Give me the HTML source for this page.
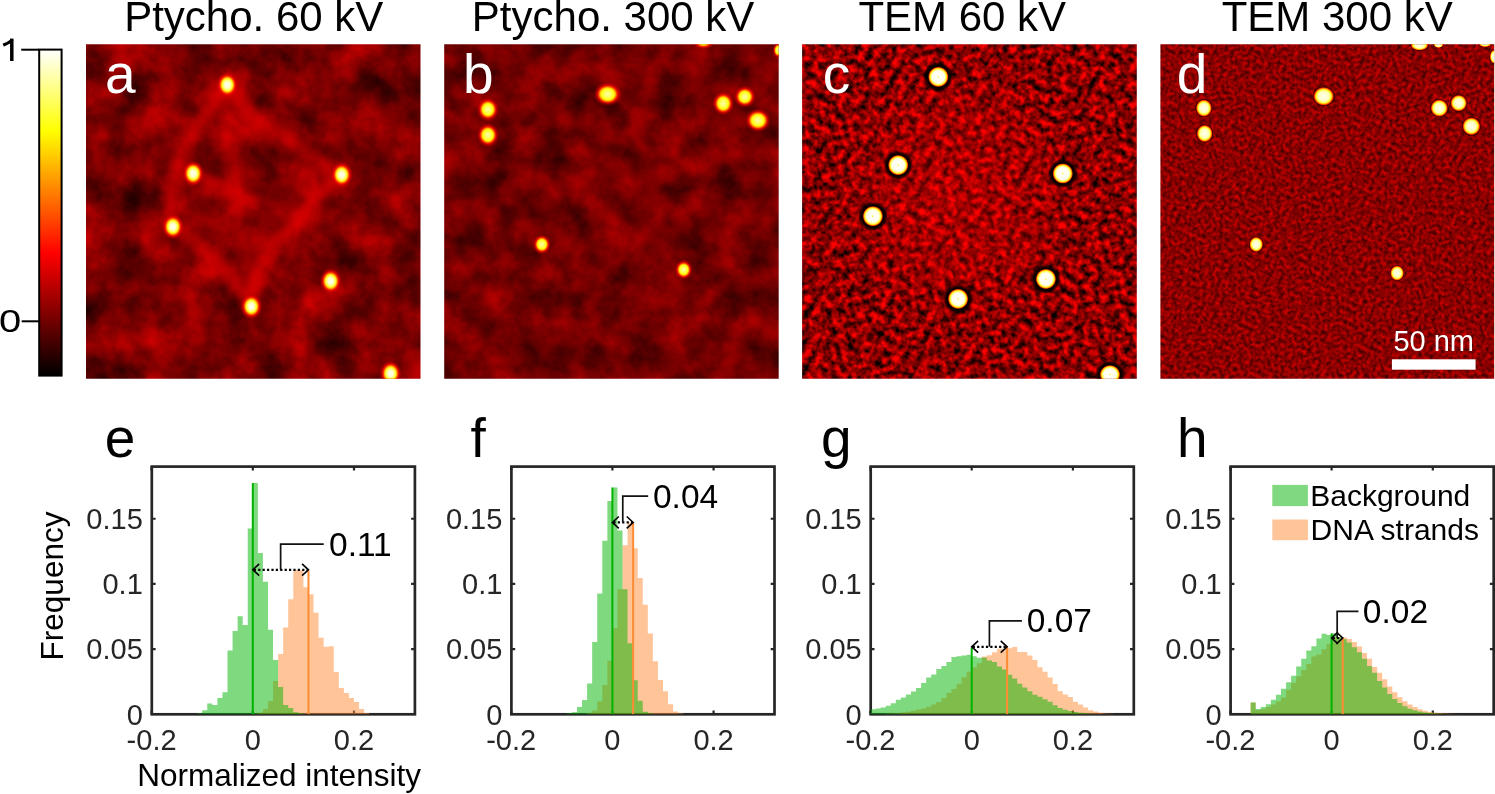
<!DOCTYPE html><html><head><meta charset="utf-8"><style>html,body{margin:0;padding:0;background:#fff;overflow:hidden;}svg{display:block;will-change:transform;}text{font-family:"Liberation Sans", sans-serif;}</style></head><body>
<svg width="1495" height="794" viewBox="0 0 1495 794">
<defs>
<linearGradient id="hot" x1="0" y1="1" x2="0" y2="0"><stop offset="0" stop-color="#000"/><stop offset="0.375" stop-color="#f00"/><stop offset="0.75" stop-color="#ff0"/><stop offset="1" stop-color="#fff"/></linearGradient>
<radialGradient id="dot"><stop offset="0" stop-color="#fffff8"/><stop offset="0.25" stop-color="#ffffc8"/><stop offset="0.45" stop-color="#ffff30"/><stop offset="0.56" stop-color="#ffb000"/><stop offset="0.66" stop-color="#ff3000"/><stop offset="0.8" stop-color="#f00000" stop-opacity="0.55"/><stop offset="1" stop-color="#d00000" stop-opacity="0"/></radialGradient>
<radialGradient id="dotd"><stop offset="0" stop-color="#fffff0"/><stop offset="0.45" stop-color="#ffffc0"/><stop offset="0.62" stop-color="#ffff40"/><stop offset="0.72" stop-color="#ffb000"/><stop offset="0.8" stop-color="#ff3000"/><stop offset="0.87" stop-color="#600000" stop-opacity="0.8"/><stop offset="0.94" stop-color="#000" stop-opacity="0.35"/><stop offset="1" stop-color="#000" stop-opacity="0"/></radialGradient>
<radialGradient id="dotb"><stop offset="0" stop-color="#ffffb0"/><stop offset="0.25" stop-color="#ffff60"/><stop offset="0.45" stop-color="#ffff10"/><stop offset="0.56" stop-color="#ffb000"/><stop offset="0.66" stop-color="#ff3000"/><stop offset="0.8" stop-color="#f00000" stop-opacity="0.55"/><stop offset="1" stop-color="#d00000" stop-opacity="0"/></radialGradient>
<radialGradient id="dotc"><stop offset="0" stop-color="#ffe800"/><stop offset="0.08" stop-color="#fffff4"/><stop offset="0.4" stop-color="#fffff0"/><stop offset="0.5" stop-color="#ffff70"/><stop offset="0.57" stop-color="#ffd000"/><stop offset="0.62" stop-color="#ff5000"/><stop offset="0.67" stop-color="#300000"/><stop offset="0.72" stop-color="#000"/><stop offset="0.84" stop-color="#000" stop-opacity="0.75"/><stop offset="1" stop-color="#000" stop-opacity="0"/></radialGradient>
<filter id="nA" x="0" y="0" width="100%" height="100%" color-interpolation-filters="sRGB"><feTurbulence type="fractalNoise" baseFrequency="0.028" numOctaves="4" seed="3" result="n"/><feColorMatrix type="matrix" values="0.85 0 0 0 0.05  0 0 0 0 0  0 0 0 0 0  0 0 0 0 1"/></filter>
<filter id="nB" x="0" y="0" width="100%" height="100%" color-interpolation-filters="sRGB"><feTurbulence type="fractalNoise" baseFrequency="0.035" numOctaves="4" seed="7" result="n"/><feColorMatrix type="matrix" values="0.65 0 0 0 0.12  0 0 0 0 0  0 0 0 0 0  0 0 0 0 1"/></filter>
<filter id="nC" x="0" y="0" width="100%" height="100%" color-interpolation-filters="sRGB"><feTurbulence type="fractalNoise" baseFrequency="0.15" numOctaves="3" seed="11" result="n"/><feColorMatrix type="matrix" values="1.8 0 0 0 -0.36  0 0 0 0 0  0 0 0 0 0  0 0 0 0 1"/></filter>
<filter id="nD" x="0" y="0" width="100%" height="100%" color-interpolation-filters="sRGB"><feTurbulence type="fractalNoise" baseFrequency="0.26" numOctaves="3" seed="5" result="n"/><feColorMatrix type="matrix" values="1 0 0 0 0.04  0 0 0 0 0  0 0 0 0 0  0 0 0 0 1"/></filter>
<filter id="blur3" x="-20%" y="-20%" width="140%" height="140%"><feGaussianBlur stdDeviation="4.2"/></filter><radialGradient id="cglow"><stop offset="0" stop-color="#ff0000" stop-opacity="0.3"/><stop offset="0.6" stop-color="#ff0000" stop-opacity="0.18"/><stop offset="1" stop-color="#ff0000" stop-opacity="0"/></radialGradient>
<clipPath id="cp0"><rect x="86" y="44.3" width="334.5" height="334.4"/></clipPath>
<clipPath id="cp1"><rect x="444.2" y="44.3" width="334.5" height="334.4"/></clipPath>
<clipPath id="cp2"><rect x="802.1" y="44.3" width="334.7" height="334.4"/></clipPath>
<clipPath id="cp3"><rect x="1160.4" y="44.3" width="333.8" height="334.4"/></clipPath>
<clipPath id="ax0"><rect x="151.8" y="465.6" width="263.1" height="249"/></clipPath>
<clipPath id="ax1"><rect x="511.4" y="465.6" width="263.1" height="249"/></clipPath>
<clipPath id="ax2"><rect x="870.7" y="465.6" width="263.1" height="249"/></clipPath>
<clipPath id="ax3"><rect x="1230.6" y="465.6" width="263.1" height="249"/></clipPath>
</defs>
<text x="124.15" y="30.9" font-size="42" fill="#000" text-anchor="start" >Ptycho. 60 kV</text>
<text x="471.85" y="30.9" font-size="42" fill="#000" text-anchor="start" >Ptycho. 300 kV</text>
<text x="858.4" y="30.9" font-size="42" fill="#000" text-anchor="start" >TEM 60 kV</text>
<text x="1221.7" y="30.9" font-size="42" fill="#000" text-anchor="start" >TEM 300 kV</text>
<rect x="39.2" y="49.6" width="22.4" height="326" fill="url(#hot)" stroke="#000" stroke-width="2"/>
<line x1="21.2" y1="49.7" x2="39" y2="49.7" stroke="#000" stroke-width="2"/>
<line x1="21.7" y1="321.3" x2="39" y2="321.3" stroke="#000" stroke-width="2"/>
<path d="M11.8,38.6 V61" stroke="#000" stroke-width="3.5"/><path d="M12.2,39.6 C10,42.5 7,43.5 3.2,45" stroke="#000" stroke-width="3.2" fill="none"/>
<text transform="translate(-1.0,332.4) scale(1.25,1)" font-size="32" fill="#000">0</text>
<g clip-path="url(#cp0)">
<rect x="13.25" y="-28.5" width="480" height="480" filter="url(#nA)" transform="rotate(0 253.25 211.5)"/>
<g filter="url(#blur3)" stroke="#ff0800" fill="none" stroke-linejoin="round" stroke-linecap="round"><path d="M227.6,84.9 L211,108 L195,130 L181,151 L172,183 L168,215 L173,227 L202,248 L225,271 L250.8,306.3 L262,267 L281,239 L305,212 L325,190 L341,174 L318,160 L286,137 L253,114 Z" stroke-width="14" stroke-opacity="0.5" fill="#ff0000" fill-opacity="0.12"/><path d="M193,173 L240,196 L290,210 L330,214 M225,110 L235,170 L240,230 L250,290" stroke-width="8" stroke-opacity="0.3"/></g>
<ellipse cx="227.3" cy="84.9" rx="11" ry="13" fill="url(#dot)"/>
<ellipse cx="193.2" cy="173.5" rx="11" ry="13" fill="url(#dot)"/>
<ellipse cx="341.7" cy="174.8" rx="11" ry="13" fill="url(#dot)"/>
<ellipse cx="172.9" cy="226.7" rx="11" ry="13" fill="url(#dot)"/>
<ellipse cx="330.7" cy="281.1" rx="11" ry="13" fill="url(#dot)"/>
<ellipse cx="251.4" cy="306.4" rx="11" ry="13" fill="url(#dot)"/>
<ellipse cx="390.6" cy="373.5" rx="11" ry="13" fill="url(#dot)"/>
</g>
<g clip-path="url(#cp1)">
<rect x="371.45" y="-28.5" width="480" height="480" filter="url(#nB)" transform="rotate(0 611.45 211.5)"/>
<g filter="url(#blur3)" stroke="#ff0800" fill="none" stroke-linejoin="round" stroke-linecap="round" stroke-opacity="0.2" stroke-width="10"><path d="M578,151 L620,165 L657,174 L700,166 L736,155 M587,197 L625,225 L667,253 M640,140 L655,200 L667,253"/></g>
<ellipse cx="487.9" cy="109.4" rx="11" ry="12" fill="url(#dotb)"/>
<ellipse cx="487.9" cy="135.1" rx="11" ry="12" fill="url(#dotb)"/>
<ellipse cx="607.7" cy="94.2" rx="14" ry="12" fill="url(#dotb)"/>
<ellipse cx="723.3" cy="103.5" rx="11" ry="12" fill="url(#dotb)"/>
<ellipse cx="744.8" cy="96.7" rx="11" ry="11" fill="url(#dotb)"/>
<ellipse cx="757.9" cy="120.4" rx="13" ry="12" fill="url(#dotb)"/>
<ellipse cx="541.9" cy="244.4" rx="9" ry="10" fill="url(#dotb)"/>
<ellipse cx="683.7" cy="269.7" rx="9" ry="10" fill="url(#dotb)"/>
<ellipse cx="703.5" cy="40.5" rx="12" ry="9" fill="url(#dotb)"/>
<ellipse cx="778.5" cy="50.3" rx="6" ry="8" fill="url(#dotb)"/>
</g>
<g clip-path="url(#cp2)">
<rect x="729.45" y="-28.5" width="480" height="480" filter="url(#nC)" transform="rotate(31 969.45 211.5)"/>
<ellipse cx="957" cy="195" rx="125" ry="130" fill="url(#cglow)"/>
<ellipse cx="938.3" cy="76.9" rx="15" ry="15" fill="url(#dotc)"/>
<ellipse cx="898.2" cy="165.1" rx="15" ry="15" fill="url(#dotc)"/>
<ellipse cx="1062.8" cy="173.5" rx="15" ry="15" fill="url(#dotc)"/>
<ellipse cx="872.9" cy="216.2" rx="15" ry="15" fill="url(#dotc)"/>
<ellipse cx="1045.9" cy="279" rx="15" ry="15" fill="url(#dotc)"/>
<ellipse cx="958.1" cy="298.9" rx="15" ry="15" fill="url(#dotc)"/>
<ellipse cx="1110" cy="374.5" rx="15" ry="14" fill="url(#dotc)"/>
</g>
<g clip-path="url(#cp3)">
<rect x="1087.3" y="-28.5" width="480" height="480" filter="url(#nD)" transform="rotate(27 1327.3 211.5)"/>
<ellipse cx="1203.9" cy="108.1" rx="8.99" ry="9.77" fill="url(#dotd)"/>
<ellipse cx="1204.7" cy="133.5" rx="8.99" ry="9.77" fill="url(#dotd)"/>
<ellipse cx="1323.7" cy="96.3" rx="11.62" ry="10.54" fill="url(#dotd)"/>
<ellipse cx="1439.3" cy="108.1" rx="9.77" ry="9.77" fill="url(#dotd)"/>
<ellipse cx="1458.7" cy="103.1" rx="9.3" ry="9.3" fill="url(#dotd)"/>
<ellipse cx="1471.4" cy="126.3" rx="10.08" ry="10.08" fill="url(#dotd)"/>
<ellipse cx="1256.2" cy="244.4" rx="7.75" ry="8.53" fill="url(#dotd)"/>
<ellipse cx="1397.1" cy="273.1" rx="7.75" ry="8.53" fill="url(#dotd)"/>
<ellipse cx="1419.5" cy="45" rx="10.08" ry="6.2" fill="url(#dotd)"/>
<ellipse cx="1494" cy="56.7" rx="4.65" ry="7.75" fill="url(#dotd)"/>
<ellipse cx="1438.5" cy="44.5" rx="5.42" ry="3.88" fill="url(#dotd)"/>
<ellipse cx="1485" cy="43" rx="7.75" ry="4.65" fill="url(#dotd)"/>
</g>
<text x="104.96" y="92.8" font-size="55" fill="#fff" text-anchor="start" >a</text>
<text x="463.05" y="92.9" font-size="55" fill="#fff" text-anchor="start" >b</text>
<text x="822.8" y="92.9" font-size="55" fill="#fff" text-anchor="start" >c</text>
<text x="1176.7" y="92.8" font-size="55" fill="#fff" text-anchor="start" >d</text>
<text x="104.8" y="457.3" font-size="55" fill="#000" text-anchor="start" >e</text>
<text x="470.4" y="456.9" font-size="55" fill="#000" text-anchor="start" >f</text>
<text x="820.9" y="457.3" font-size="55" fill="#000" text-anchor="start" >g</text>
<text x="1176.9" y="457" font-size="55" fill="#000" text-anchor="start" >h</text>
<rect x="1391.9" y="359.3" width="83.7" height="10.4" fill="#fff"/>
<text x="1393.4" y="351.3" font-size="29" fill="#fff" text-anchor="start" >50 nm</text>
<rect x="151.8" y="466.6" width="263.1" height="247.7" fill="none" stroke="#262626" stroke-width="2.7"/>
<path d="M151.61,714.3 v-3.8 M151.61,466.6 v3.8 M252.8,714.3 v-3.8 M252.8,466.6 v3.8 M353.99,714.3 v-3.8 M353.99,466.6 v3.8 M151.8,649.12 h3.8 M414.9,649.12 h-3.8 M151.8,583.93 h3.8 M414.9,583.93 h-3.8 M151.8,518.74 h3.8 M414.9,518.74 h-3.8" stroke="#262626" stroke-width="2.2" fill="none"/>
<g clip-path="url(#ax0)">
<path d="M252.8,714.3 L252.8,713.8 L257.86,713.8 L257.86,712.8 L262.92,712.8 L262.92,708.9 L267.98,708.9 L267.98,700.9 L273.04,700.9 L273.04,680.9 L278.1,680.9 L278.1,654.1 L283.16,654.1 L283.16,627.6 L288.22,627.6 L288.22,599.2 L293.28,599.2 L293.28,570.3 L298.34,570.3 L298.34,570.3 L303.4,570.3 L303.4,587.3 L308.46,587.3 L308.46,594.3 L313.52,594.3 L313.52,612.7 L318.57,612.7 L318.57,637.7 L323.63,637.7 L323.63,646.7 L328.69,646.7 L328.69,646.3 L333.75,646.3 L333.75,671.9 L338.81,671.9 L338.81,688 L343.87,688 L343.87,693.1 L348.93,693.1 L348.93,698.1 L353.99,698.1 L353.99,701.9 L359.05,701.9 L359.05,709.1 L364.11,709.1 L364.11,713 L369.17,713 L369.17,714.3 Z" fill="rgb(255,140,51)" fill-opacity="0.5"/>
<path d="M197.14,714.3 L197.14,713.3 L202.2,713.3 L202.2,710.3 L207.26,710.3 L207.26,703.4 L212.32,703.4 L212.32,705.1 L217.38,705.1 L217.38,698 L222.44,698 L222.44,692.3 L227.5,692.3 L227.5,650.6 L232.56,650.6 L232.56,630.9 L237.62,630.9 L237.62,616.2 L242.68,616.2 L242.68,624.9 L247.74,624.9 L247.74,528.6 L252.8,528.6 L252.8,483.1 L257.86,483.1 L257.86,553.1 L262.92,553.1 L262.92,581.8 L267.98,581.8 L267.98,629.8 L273.04,629.8 L273.04,659.9 L278.1,659.9 L278.1,687.1 L283.16,687.1 L283.16,705.1 L288.22,705.1 L288.22,708.1 L293.28,708.1 L293.28,712.3 L298.34,712.3 L298.34,713.3 L303.4,713.3 L303.4,714.3 Z" fill="rgb(0,179,0)" fill-opacity="0.5"/>
<line x1="252.8" y1="714.3" x2="252.8" y2="483.1" stroke="#00b300" stroke-width="2"/>
<line x1="308.46" y1="714.3" x2="308.46" y2="570.6" stroke="#ff8c33" stroke-width="2"/>
</g>
<line x1="253.8" y1="569.8" x2="307.46" y2="569.8" stroke="#000" stroke-width="2.2" stroke-dasharray="2.2 2.2"/>
<path d="M259.2,563.9 L252.8,569.8 L259.2,575.7 M302.06,563.9 L308.46,569.8 L302.06,575.7" fill="none" stroke="#000" stroke-width="1.6"/>
<path d="M280.63,569.8 V544.1 H323.73" fill="none" stroke="#111" stroke-width="1.7"/>
<text x="329.03" y="555.6" font-size="33.5" fill="#000" text-anchor="start" >0.11</text>
<text x="142.8" y="724.5" font-size="29" fill="#262626" text-anchor="end" >0</text>
<text x="142.8" y="659.32" font-size="29" fill="#262626" text-anchor="end" >0.05</text>
<text x="142.8" y="594.13" font-size="29" fill="#262626" text-anchor="end" >0.1</text>
<text x="142.8" y="528.94" font-size="29" fill="#262626" text-anchor="end" >0.15</text>
<text x="151.61" y="750" font-size="29" fill="#262626" text-anchor="middle" >-0.2</text>
<text x="252.8" y="750" font-size="29" fill="#262626" text-anchor="middle" >0</text>
<text x="353.99" y="750" font-size="29" fill="#262626" text-anchor="middle" >0.2</text>
<rect x="511.4" y="466.6" width="263.1" height="247.7" fill="none" stroke="#262626" stroke-width="2.7"/>
<path d="M511.21,714.3 v-3.8 M511.21,466.6 v3.8 M612.4,714.3 v-3.8 M612.4,466.6 v3.8 M713.59,714.3 v-3.8 M713.59,466.6 v3.8 M511.4,649.12 h3.8 M774.5,649.12 h-3.8 M511.4,583.93 h3.8 M774.5,583.93 h-3.8 M511.4,518.74 h3.8 M774.5,518.74 h-3.8" stroke="#262626" stroke-width="2.2" fill="none"/>
<g clip-path="url(#ax1)">
<path d="M587.1,714.3 L587.1,713.3 L592.16,713.3 L592.16,710.6 L597.22,710.6 L597.22,701.6 L602.28,701.6 L602.28,684.9 L607.34,684.9 L607.34,660.7 L612.4,660.7 L612.4,628 L617.46,628 L617.46,589.2 L622.52,589.2 L622.52,545.3 L627.58,545.3 L627.58,522.4 L632.64,522.4 L632.64,548.3 L637.7,548.3 L637.7,578 L642.76,578 L642.76,604.7 L647.82,604.7 L647.82,633.4 L652.88,633.4 L652.88,661.2 L657.94,661.2 L657.94,680 L663,680 L663,691.2 L668.06,691.2 L668.06,704.3 L673.12,704.3 L673.12,711.5 L678.17,711.5 L678.17,713.3 L683.23,713.3 L683.23,714.3 Z" fill="rgb(255,140,51)" fill-opacity="0.5"/>
<path d="M566.86,714.3 L566.86,713.3 L571.92,713.3 L571.92,712.3 L576.98,712.3 L576.98,707.1 L582.04,707.1 L582.04,700 L587.1,700 L587.1,683.6 L592.16,683.6 L592.16,642.1 L597.22,642.1 L597.22,593.6 L602.28,593.6 L602.28,540.7 L607.34,540.7 L607.34,501.1 L612.4,501.1 L612.4,487.5 L617.46,487.5 L617.46,530.6 L622.52,530.6 L622.52,589.3 L627.58,589.3 L627.58,643.2 L632.64,643.2 L632.64,680.3 L637.7,680.3 L637.7,700.8 L642.76,700.8 L642.76,711.8 L647.82,711.8 L647.82,713.3 L652.88,713.3 L652.88,714.3 Z" fill="rgb(0,179,0)" fill-opacity="0.5"/>
<line x1="612.4" y1="714.3" x2="612.4" y2="487.5" stroke="#00b300" stroke-width="2"/>
<line x1="633.14" y1="714.3" x2="633.14" y2="522.4" stroke="#ff8c33" stroke-width="2"/>
</g>
<line x1="613.4" y1="522.4" x2="632.14" y2="522.4" stroke="#000" stroke-width="2.2" stroke-dasharray="2.2 2.2"/>
<path d="M618.8,516.5 L612.4,522.4 L618.8,528.3 M626.74,516.5 L633.14,522.4 L626.74,528.3" fill="none" stroke="#000" stroke-width="1.6"/>
<path d="M622.77,522.4 V496.2 H648.17" fill="none" stroke="#111" stroke-width="1.7"/>
<text x="652.97" y="507.7" font-size="33.5" fill="#000" text-anchor="start" >0.04</text>
<text x="502.4" y="724.5" font-size="29" fill="#262626" text-anchor="end" >0</text>
<text x="502.4" y="659.32" font-size="29" fill="#262626" text-anchor="end" >0.05</text>
<text x="502.4" y="594.13" font-size="29" fill="#262626" text-anchor="end" >0.1</text>
<text x="502.4" y="528.94" font-size="29" fill="#262626" text-anchor="end" >0.15</text>
<text x="511.21" y="750" font-size="29" fill="#262626" text-anchor="middle" >-0.2</text>
<text x="612.4" y="750" font-size="29" fill="#262626" text-anchor="middle" >0</text>
<text x="713.59" y="750" font-size="29" fill="#262626" text-anchor="middle" >0.2</text>
<rect x="870.7" y="466.6" width="263.1" height="247.7" fill="none" stroke="#262626" stroke-width="2.7"/>
<path d="M870.51,714.3 v-3.8 M870.51,466.6 v3.8 M971.7,714.3 v-3.8 M971.7,466.6 v3.8 M1072.89,714.3 v-3.8 M1072.89,466.6 v3.8 M870.7,649.12 h3.8 M1133.8,649.12 h-3.8 M870.7,583.93 h3.8 M1133.8,583.93 h-3.8 M870.7,518.74 h3.8 M1133.8,518.74 h-3.8" stroke="#262626" stroke-width="2.2" fill="none"/>
<g clip-path="url(#ax2)">
<path d="M885.69,714.3 L885.69,713.8 L890.75,713.8 L890.75,713.5 L895.81,713.5 L895.81,713.3 L900.87,713.3 L900.87,712.5 L905.93,712.5 L905.93,711.7 L910.98,711.7 L910.98,710.7 L916.04,710.7 L916.04,709.5 L921.1,709.5 L921.1,708.4 L926.16,708.4 L926.16,706.8 L931.22,706.8 L931.22,704.5 L936.28,704.5 L936.28,702 L941.34,702 L941.34,697.9 L946.4,697.9 L946.4,692.9 L951.46,692.9 L951.46,689.1 L956.52,689.1 L956.52,683.8 L961.58,683.8 L961.58,677.3 L966.64,677.3 L966.64,671.8 L971.7,671.8 L971.7,667.3 L976.76,667.3 L976.76,663.3 L981.82,663.3 L981.82,656.5 L986.88,656.5 L986.88,655.3 L991.94,655.3 L991.94,652.2 L997,652.2 L997,648.7 L1002.06,648.7 L1002.06,648.7 L1007.12,648.7 L1007.12,648.2 L1012.18,648.2 L1012.18,647.1 L1017.24,647.1 L1017.24,651.9 L1022.3,651.9 L1022.3,651.9 L1027.36,651.9 L1027.36,655.6 L1032.42,655.6 L1032.42,660 L1037.47,660 L1037.47,667.3 L1042.53,667.3 L1042.53,671.7 L1047.59,671.7 L1047.59,677.6 L1052.65,677.6 L1052.65,684.1 L1057.71,684.1 L1057.71,691.2 L1062.77,691.2 L1062.77,694.4 L1067.83,694.4 L1067.83,697.1 L1072.89,697.1 L1072.89,701.7 L1077.95,701.7 L1077.95,704.5 L1083.01,704.5 L1083.01,707.5 L1088.07,707.5 L1088.07,710.3 L1093.13,710.3 L1093.13,711.4 L1098.19,711.4 L1098.19,712.8 L1103.25,712.8 L1103.25,713.5 L1108.31,713.5 L1108.31,713.8 L1113.37,713.8 L1113.37,714.3 Z" fill="rgb(255,140,51)" fill-opacity="0.5"/>
<path d="M870.7,714.3 L870.7,709.2 L875.57,709.2 L875.57,708.6 L880.63,708.6 L880.63,707.6 L885.69,707.6 L885.69,705.8 L890.75,705.8 L890.75,703.3 L895.81,703.3 L895.81,699.8 L900.87,699.8 L900.87,697.5 L905.93,697.5 L905.93,694.5 L910.98,694.5 L910.98,691.5 L916.04,691.5 L916.04,688 L921.1,688 L921.1,682.9 L926.16,682.9 L926.16,677.4 L931.22,677.4 L931.22,674.5 L936.28,674.5 L936.28,669.1 L941.34,669.1 L941.34,666.1 L946.4,666.1 L946.4,662 L951.46,662 L951.46,657.1 L956.52,657.1 L956.52,656.2 L961.58,656.2 L961.58,655.4 L966.64,655.4 L966.64,654.7 L971.7,654.7 L971.7,656.2 L976.76,656.2 L976.76,657.8 L981.82,657.8 L981.82,657.4 L986.88,657.4 L986.88,660.4 L991.94,660.4 L991.94,661.9 L997,661.9 L997,666.5 L1002.06,666.5 L1002.06,669.5 L1007.12,669.5 L1007.12,674.8 L1012.18,674.8 L1012.18,678.5 L1017.24,678.5 L1017.24,683.8 L1022.3,683.8 L1022.3,687.6 L1027.36,687.6 L1027.36,691.2 L1032.42,691.2 L1032.42,694.8 L1037.47,694.8 L1037.47,696.8 L1042.53,696.8 L1042.53,699.2 L1047.59,699.2 L1047.59,701.8 L1052.65,701.8 L1052.65,705.3 L1057.71,705.3 L1057.71,708.1 L1062.77,708.1 L1062.77,709.8 L1067.83,709.8 L1067.83,711.1 L1072.89,711.1 L1072.89,712 L1077.95,712 L1077.95,712.8 L1083.01,712.8 L1083.01,713.3 L1088.07,713.3 L1088.07,713.8 L1093.13,713.8 L1093.13,714.3 Z" fill="rgb(0,179,0)" fill-opacity="0.5"/>
<line x1="971.7" y1="714.3" x2="971.7" y2="647.6" stroke="#00b300" stroke-width="2"/>
<line x1="1007.12" y1="714.3" x2="1007.12" y2="646.8" stroke="#ff8c33" stroke-width="2"/>
</g>
<line x1="972.7" y1="646.8" x2="1006.12" y2="646.8" stroke="#000" stroke-width="2.2" stroke-dasharray="2.2 2.2"/>
<path d="M978.1,640.9 L971.7,646.8 L978.1,652.7 M1000.72,640.9 L1007.12,646.8 L1000.72,652.7" fill="none" stroke="#000" stroke-width="1.6"/>
<path d="M989.41,646.8 V620.9 H1021.91" fill="none" stroke="#111" stroke-width="1.7"/>
<text x="1026.71" y="632.4" font-size="33.5" fill="#000" text-anchor="start" >0.07</text>
<text x="861.7" y="724.5" font-size="29" fill="#262626" text-anchor="end" >0</text>
<text x="861.7" y="659.32" font-size="29" fill="#262626" text-anchor="end" >0.05</text>
<text x="861.7" y="594.13" font-size="29" fill="#262626" text-anchor="end" >0.1</text>
<text x="861.7" y="528.94" font-size="29" fill="#262626" text-anchor="end" >0.15</text>
<text x="870.51" y="750" font-size="29" fill="#262626" text-anchor="middle" >-0.2</text>
<text x="971.7" y="750" font-size="29" fill="#262626" text-anchor="middle" >0</text>
<text x="1072.89" y="750" font-size="29" fill="#262626" text-anchor="middle" >0.2</text>
<rect x="1230.6" y="466.6" width="263.1" height="247.7" fill="none" stroke="#262626" stroke-width="2.7"/>
<path d="M1230.41,714.3 v-3.8 M1230.41,466.6 v3.8 M1331.6,714.3 v-3.8 M1331.6,466.6 v3.8 M1432.79,714.3 v-3.8 M1432.79,466.6 v3.8 M1230.6,649.12 h3.8 M1493.7,649.12 h-3.8 M1230.6,583.93 h3.8 M1493.7,583.93 h-3.8 M1230.6,518.74 h3.8 M1493.7,518.74 h-3.8" stroke="#262626" stroke-width="2.2" fill="none"/>
<g clip-path="url(#ax3)">
<path d="M1250.65,714.3 L1250.65,702.6 L1255.71,702.6 L1255.71,710 L1260.77,710 L1260.77,709.1 L1265.83,709.1 L1265.83,707 L1270.88,707 L1270.88,704.6 L1275.94,704.6 L1275.94,701.4 L1281,701.4 L1281,697.6 L1286.06,697.6 L1286.06,689.7 L1291.12,689.7 L1291.12,682.7 L1296.18,682.7 L1296.18,676.2 L1301.24,676.2 L1301.24,669.9 L1306.3,669.9 L1306.3,664 L1311.36,664 L1311.36,656.4 L1316.42,656.4 L1316.42,654.6 L1321.48,654.6 L1321.48,649.2 L1326.54,649.2 L1326.54,644 L1331.6,644 L1331.6,637.5 L1336.66,637.5 L1336.66,637.5 L1341.72,637.5 L1341.72,637.5 L1346.78,637.5 L1346.78,639.1 L1351.84,639.1 L1351.84,642.1 L1356.9,642.1 L1356.9,646.5 L1361.96,646.5 L1361.96,653 L1367.02,653 L1367.02,658.8 L1372.08,658.8 L1372.08,667 L1377.14,667 L1377.14,672.7 L1382.2,672.7 L1382.2,679.2 L1387.26,679.2 L1387.26,686.6 L1392.32,686.6 L1392.32,692.3 L1397.37,692.3 L1397.37,697.2 L1402.43,697.2 L1402.43,701.3 L1407.49,701.3 L1407.49,704.6 L1412.55,704.6 L1412.55,707.1 L1417.61,707.1 L1417.61,709.2 L1422.67,709.2 L1422.67,710.8 L1427.73,710.8 L1427.73,712 L1432.79,712 L1432.79,712.8 L1437.85,712.8 L1437.85,713.3 L1442.91,713.3 L1442.91,713.6 L1447.97,713.6 L1447.97,713.8 L1453.03,713.8 L1453.03,713.9 L1458.09,713.9 L1458.09,714 L1463.15,714 L1463.15,714.3 Z" fill="rgb(255,140,51)" fill-opacity="0.5"/>
<path d="M1250.65,714.3 L1250.65,702.6 L1255.71,702.6 L1255.71,709.1 L1260.77,709.1 L1260.77,707 L1265.83,707 L1265.83,704.2 L1270.88,704.2 L1270.88,699.8 L1275.94,699.8 L1275.94,694.8 L1281,694.8 L1281,688.7 L1286.06,688.7 L1286.06,682.3 L1291.12,682.3 L1291.12,675.8 L1296.18,675.8 L1296.18,666.5 L1301.24,666.5 L1301.24,658.8 L1306.3,658.8 L1306.3,650.6 L1311.36,650.6 L1311.36,646.3 L1316.42,646.3 L1316.42,638.4 L1321.48,638.4 L1321.48,633.8 L1326.54,633.8 L1326.54,634.9 L1331.6,634.9 L1331.6,633.3 L1336.66,633.3 L1336.66,637 L1341.72,637 L1341.72,639.3 L1346.78,639.3 L1346.78,642.4 L1351.84,642.4 L1351.84,647.3 L1356.9,647.3 L1356.9,652.2 L1361.96,652.2 L1361.96,658.8 L1367.02,658.8 L1367.02,666.1 L1372.08,666.1 L1372.08,672.7 L1377.14,672.7 L1377.14,680.9 L1382.2,680.9 L1382.2,687.4 L1387.26,687.4 L1387.26,694 L1392.32,694 L1392.32,698.9 L1397.37,698.9 L1397.37,703 L1402.43,703 L1402.43,706.2 L1407.49,706.2 L1407.49,708.7 L1412.55,708.7 L1412.55,710.3 L1417.61,710.3 L1417.61,711.5 L1422.67,711.5 L1422.67,712.5 L1427.73,712.5 L1427.73,713.1 L1432.79,713.1 L1432.79,713.5 L1437.85,713.5 L1437.85,713.8 L1442.91,713.8 L1442.91,714.3 Z" fill="rgb(0,179,0)" fill-opacity="0.5"/>
<line x1="1331.6" y1="714.3" x2="1331.6" y2="633.4" stroke="#00b300" stroke-width="2"/>
<line x1="1342.73" y1="714.3" x2="1342.73" y2="637.5" stroke="#ff8c33" stroke-width="2"/>
</g>
<line x1="1332.6" y1="638" x2="1341.73" y2="638" stroke="#000" stroke-width="2.2" stroke-dasharray="2.2 2.2"/>
<path d="M1338,632.1 L1331.6,638 L1338,643.9 M1336.33,632.1 L1342.73,638 L1336.33,643.9" fill="none" stroke="#000" stroke-width="1.6"/>
<path d="M1337.17,638 V611.3 H1358.47" fill="none" stroke="#111" stroke-width="1.7"/>
<text x="1362.87" y="622.8" font-size="33.5" fill="#000" text-anchor="start" >0.02</text>
<text x="1221.6" y="724.5" font-size="29" fill="#262626" text-anchor="end" >0</text>
<text x="1221.6" y="659.32" font-size="29" fill="#262626" text-anchor="end" >0.05</text>
<text x="1221.6" y="594.13" font-size="29" fill="#262626" text-anchor="end" >0.1</text>
<text x="1221.6" y="528.94" font-size="29" fill="#262626" text-anchor="end" >0.15</text>
<text x="1230.41" y="750" font-size="29" fill="#262626" text-anchor="middle" >-0.2</text>
<text x="1331.6" y="750" font-size="29" fill="#262626" text-anchor="middle" >0</text>
<text x="1432.79" y="750" font-size="29" fill="#262626" text-anchor="middle" >0.2</text>
<text transform="translate(62.9,660.4) rotate(-90)" font-size="31.5" fill="#000">Frequency</text>
<text x="137.3" y="786" font-size="31.5" fill="#000" text-anchor="start" >Normalized intensity</text>
<rect x="1272.3" y="484.9" width="35.6" height="21.2" fill="rgb(128,217,128)"/>
<rect x="1272.3" y="519.5" width="35.6" height="20.7" fill="rgb(255,197,153)"/>
<text x="1310.2" y="505.7" font-size="30" fill="#000" text-anchor="start" >Background</text>
<text x="1310.6" y="540.2" font-size="30" fill="#000" text-anchor="start" >DNA strands</text>
</svg></body></html>
